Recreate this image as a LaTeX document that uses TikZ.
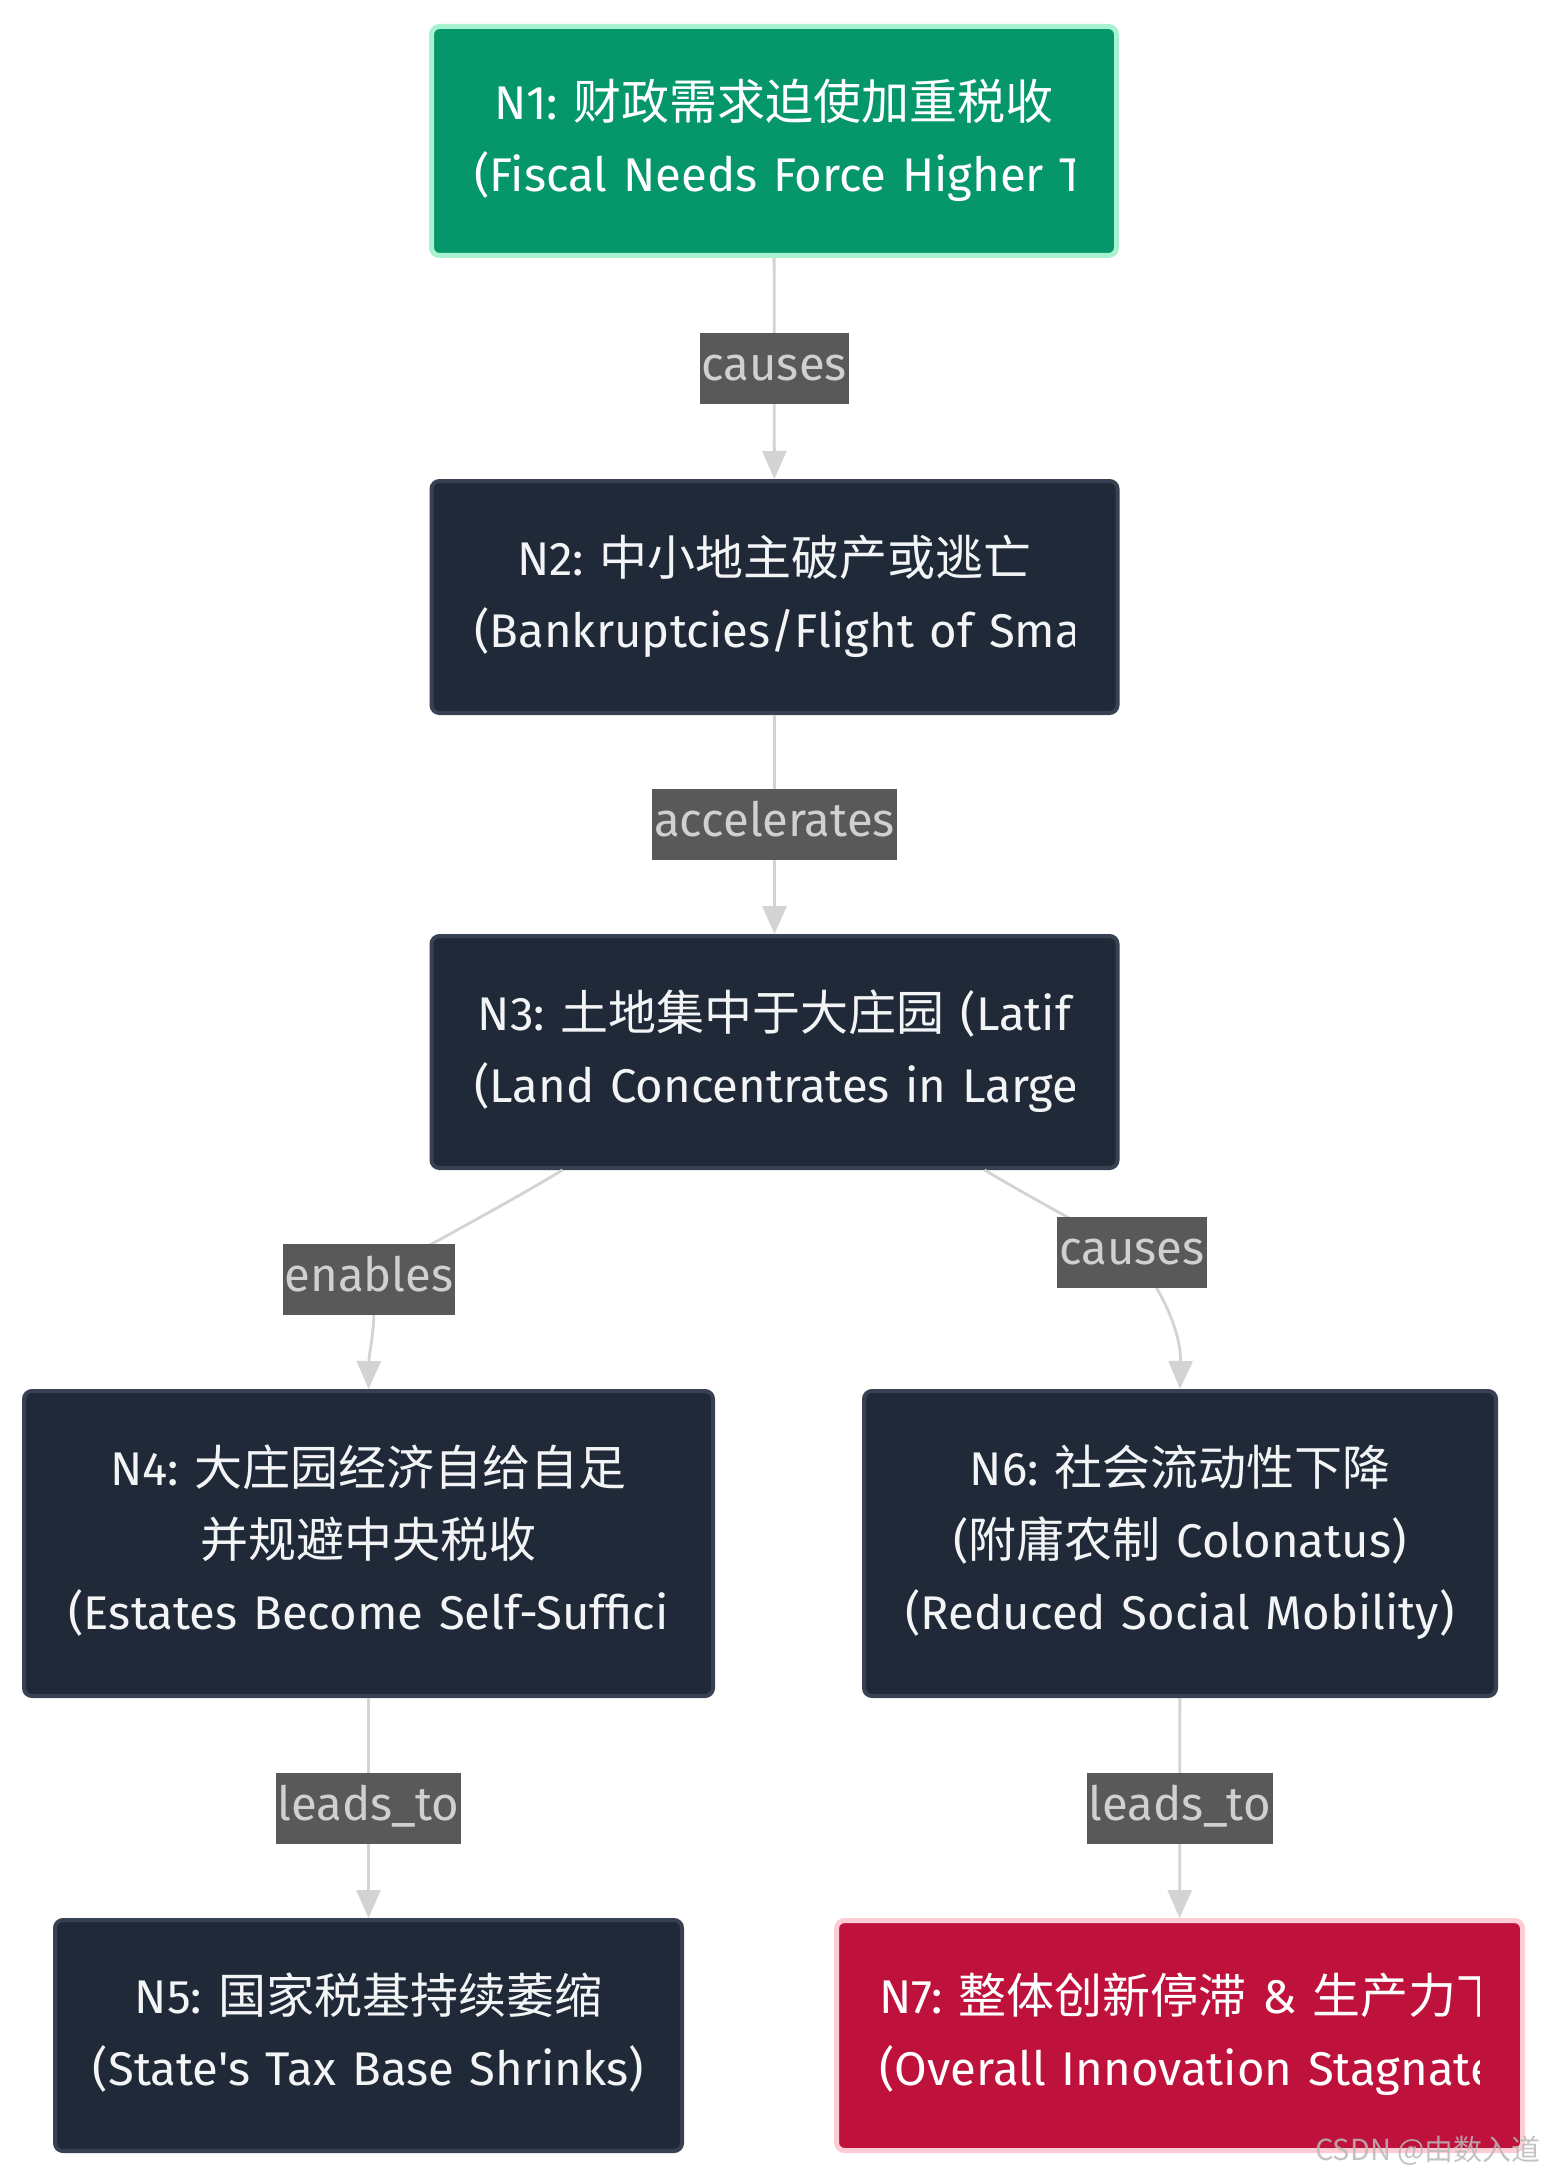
\documentclass[tikz,border=0pt]{standalone}
\usepackage{fontspec}
\setmainfont{Fira Sans}[Ligatures=TeXOff,Scale=0.985]
\newfontfamily\zh{Noto Sans CJK SC}
\frenchspacing
\usetikzlibrary{arrows.meta}
\definecolor{GreenFill}{HTML}{059669}
\definecolor{GreenLine}{HTML}{A7F3D0}
\definecolor{DarkFill}{HTML}{1F2937}
\definecolor{DarkLine}{HTML}{374151}
\definecolor{RedFill}{HTML}{BE123C}
\definecolor{RedLine}{HTML}{FECDD3}
\definecolor{EdgeGray}{HTML}{D3D3D3}
\definecolor{LabelFill}{HTML}{595959}
\definecolor{LabelText}{HTML}{D0D0D0}
\definecolor{NodeText}{HTML}{F3F4F6}

\begin{document}
\begin{tikzpicture}[x=0.5pt,y=-0.5pt,
  box/.style={rectangle,rounded corners=4pt,line width=2pt,inner sep=0pt},
  darkbox/.style={box,draw=DarkLine,fill=DarkFill},
  greenbox/.style={box,draw=GreenLine,fill=GreenFill,line width=2.5pt},
  redbox/.style={box,draw=RedLine,fill=RedFill,line width=2.5pt},
  txt/.style={text=NodeText,text width=300pt,align=center,inner sep=0pt,font=\fontsize{24}{36}\selectfont},
  lbl/.style={fill=LabelFill,text=LabelText,font=\fontsize{24}{36}\selectfont,inner xsep=1pt,inner ysep=0pt,minimum height=35.5pt,text height=17pt,text depth=5pt},
  edge/.style={draw=EdgeGray,line width=1.4pt,-{Triangle[length=14pt,width=12pt]}},
  wm/.style={text=gray!55,opacity=0.85,font=\zh\fontsize{14.5}{16}\selectfont,inner sep=0pt}]
\fill[white] (0,0) rectangle (1549,2177);
\useasboundingbox (0,0) rectangle (1549,2177);

% boxes
\node[greenbox,minimum width=342.5pt,minimum height=114.5pt] (n1) at (774,141) {};
\node[darkbox,minimum width=343pt,minimum height=116pt] (n2) at (774.5,597) {};
\node[darkbox,minimum width=343pt,minimum height=116pt] (n3) at (774.5,1052) {};
\node[darkbox,minimum width=344.5pt,minimum height=152.5pt] (n4) at (368.5,1543.5) {};
\node[darkbox,minimum width=316pt,minimum height=152.5pt] (n6) at (1180,1543.5) {};
\node[darkbox,minimum width=313.5pt,minimum height=115.5pt] (n5) at (368.5,2035.5) {};
\node[redbox,minimum width=343pt,minimum height=115pt] (n7) at (1179.5,2035.5) {};

% texts, cut at the right side like the original
\begin{scope}
\clip ([xshift=-150pt,yshift=-55pt]n1.center) rectangle ([xshift=150pt,yshift=55pt]n1.center);
\node[txt,text=white] (t1) at (n1) {\strut N1: {\zh 财政需求迫使加重税收}\\\mbox{(Fiscal Needs Force Higher T}\strut};
\end{scope}
\begin{scope}
\clip ([xshift=-150pt,yshift=-55pt]n2.center) rectangle ([xshift=150pt,yshift=55pt]n2.center);
\node[txt] (t2) at (n2) {\strut N2: {\zh 中小地主破产或逃亡}\\\mbox{(Bankruptcies/Flight of Sma}\strut};
\end{scope}
\begin{scope}
\clip ([xshift=-150pt,yshift=-55pt]n3.center) rectangle ([xshift=150pt,yshift=55pt]n3.center);
\node[txt] (t3) at (n3) {\strut\mbox{N3: {\zh 土地集中于大庄园} (Latif}\\\mbox{(Land Concentrates in Large}\strut};
\end{scope}
\begin{scope}
\clip ([xshift=-150pt,yshift=-72pt]n4.center) rectangle ([xshift=150pt,yshift=72pt]n4.center);
\node[txt] (t4) at (n4) {\strut N4: {\zh 大庄园经济自给自足}\\{\zh 并规避中央税收}\\\mbox{(Estates Become Self-Suffici}\strut};
\end{scope}
\node[txt] (t6) at (n6) {\strut N6: {\zh 社会流动性下降}\\({\zh 附庸农制} Colonatus)\\(Reduced Social Mobility)\strut};
\node[txt] (t5) at (n5) {\strut N5: {\zh 国家税基持续萎缩}\\(State's Tax Base Shrinks)\strut};
\begin{scope}
\clip ([xshift=-150pt,yshift=-55pt]n7.center) rectangle ([xshift=150pt,yshift=55pt]n7.center);
\node[txt,text=white] (t7) at (n7) {\strut\mbox{N7: {\zh 整体创新停滞} \& {\zh 生产力下}}\\\mbox{(Overall Innovation Stagnate}\strut};
\end{scope}

% connectors
\draw[edge] (n1) -- node[lbl] (l12) {causes} (n2);
\draw[edge] (n2) -- node[lbl] (l23) {accelerates} (n3);
\draw[edge] ([xshift=-106pt]n3.south) .. controls (505,1205) and (410,1255) .. (369,1279) node[lbl] (l34) {enables}
  .. controls (380,1310) and (369,1350) .. (n4.north);
\draw[edge] ([xshift=105pt]n3.south) .. controls (1035,1200) and (1100,1235) .. (1132,1252) node[lbl] (l36) {causes}
  .. controls (1170,1300) and (1181,1340) .. (n6.north);
\draw[edge] (n4) -- node[lbl] (l45) {leads\_to} (n5);
\draw[edge] (n6) -- node[lbl] (l67) {leads\_to} (n7);

\node[wm] (wm) at (1428,2151) {CSDN @由数入道};
\end{tikzpicture}
\end{document}
